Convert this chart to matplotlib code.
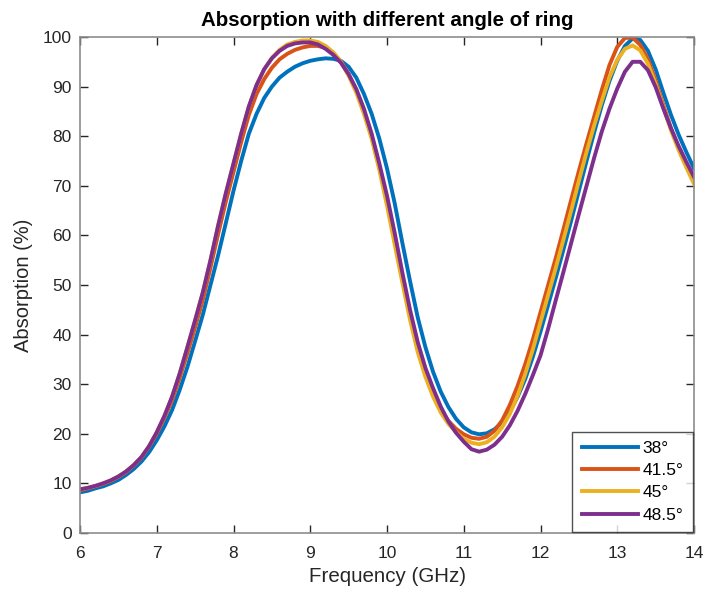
import matplotlib
matplotlib.use("Agg")
import matplotlib.pyplot as plt

plt.rcParams['font.family'] = ['Liberation Sans', 'DejaVu Sans']

freq = [6.0, 6.1, 6.2, 6.3, 6.4, 6.5, 6.6, 6.7, 6.8, 6.9,
        7.0, 7.1, 7.2, 7.3, 7.4, 7.5, 7.6, 7.7, 7.8, 7.9,
        8.0, 8.1, 8.2, 8.3, 8.4, 8.5, 8.6, 8.7, 8.8, 8.9,
        9.0, 9.1, 9.2, 9.3, 9.4, 9.5, 9.6, 9.7, 9.8, 9.9,
        10.0, 10.1, 10.2, 10.3, 10.4, 10.5, 10.6, 10.7, 10.8, 10.9,
        11.0, 11.1, 11.2, 11.3, 11.4, 11.5, 11.6, 11.7, 11.8, 11.9,
        12.0, 12.1, 12.2, 12.3, 12.4, 12.5, 12.6, 12.7, 12.8, 12.9,
        13.0, 13.1, 13.2, 13.3, 13.4, 13.5, 13.6, 13.7, 13.8, 13.9, 14.0]

abs_38 = [8.2, 8.5, 9.0, 9.4, 10.0, 10.7, 11.7, 12.9, 14.4, 16.3,
          18.7, 21.5, 24.8, 28.9, 33.5, 38.7, 44.0, 50.0, 56.0, 62.5,
          69.0, 75.0, 80.5, 84.5, 87.7, 90.0, 91.8, 93.0, 94.0, 94.7,
          95.2, 95.5, 95.7, 95.6, 95.2, 94.0, 91.8, 88.5, 84.5, 79.5,
          73.5, 66.5, 58.5, 50.8, 43.5, 37.5, 32.5, 28.5, 25.4, 23.0,
          21.3, 20.3, 19.9, 20.1, 20.9, 22.3, 24.5, 27.4, 31.0, 35.5,
          40.6, 46.0, 51.5, 57.2, 63.0, 69.0, 75.0, 80.8, 86.3, 91.2,
          95.2, 98.2, 99.7, 99.4, 97.2, 93.5, 88.8, 84.3, 80.3, 76.8, 73.5]

abs_415 = [8.6, 9.0, 9.4, 9.9, 10.5, 11.3, 12.3, 13.6, 15.2, 17.4,
           20.0, 23.2, 26.8, 31.3, 36.3, 41.5, 47.0, 53.5, 60.3, 66.8,
           72.8, 78.8, 84.3, 88.5, 91.5, 93.8, 95.5, 96.6, 97.4, 97.9,
           98.2, 98.2, 97.8, 96.8, 95.0, 92.5, 89.2, 85.0, 80.0, 73.8,
           66.8, 59.0, 51.2, 43.7, 37.0, 32.0, 28.0, 24.8, 22.6, 21.0,
           19.9, 19.2, 19.0, 19.4, 20.6, 22.7, 25.8, 29.6, 34.0, 39.0,
           44.5, 50.0, 55.5, 61.3, 67.2, 73.0, 78.6, 84.0, 89.4, 94.4,
           98.0, 99.8, 99.9, 98.4, 95.5, 91.2, 86.3, 81.6, 77.5, 74.0, 70.8]

abs_45 = [8.8, 9.1, 9.5, 10.0, 10.6, 11.4, 12.4, 13.7, 15.3, 17.5,
          20.3, 23.6, 27.5, 32.2, 37.5, 42.9, 48.5, 55.0, 62.0, 68.5,
          74.5, 80.5, 86.0, 90.3, 93.5, 95.8, 97.4, 98.5, 99.0, 99.3,
          99.3, 99.0, 98.2, 96.9, 95.0, 92.2, 88.8, 84.5, 79.5, 73.2,
          66.0, 58.2, 50.5, 43.0, 36.5, 31.5, 27.5, 24.3, 22.0, 20.3,
          19.0, 18.2, 17.9, 18.3, 19.4, 21.3, 24.0, 27.6, 32.0, 37.0,
          42.5, 48.0, 53.5, 59.2, 65.0, 71.0, 76.8, 82.2, 87.2, 91.9,
          95.4, 97.6, 98.3, 97.3, 94.6, 90.5, 85.8, 81.2, 77.2, 73.7, 70.4]

abs_485 = [8.8, 9.1, 9.5, 10.0, 10.6, 11.4, 12.4, 13.7, 15.3, 17.5,
           20.3, 23.6, 27.5, 32.2, 37.5, 42.9, 48.5, 55.0, 62.0, 68.5,
           74.5, 80.5, 86.0, 90.3, 93.5, 95.7, 97.2, 98.2, 98.7, 98.9,
           98.9, 98.5, 97.6, 96.4, 94.8, 92.5, 89.5, 85.5, 80.5, 74.5,
           68.0, 60.5, 52.5, 45.0, 38.5, 33.3, 29.2, 25.5, 22.5, 20.2,
           18.4, 16.9, 16.4, 16.8, 17.8, 19.4, 21.7, 24.6, 28.0, 31.8,
           35.8, 41.2, 47.0, 52.7, 58.5, 64.3, 70.0, 75.7, 81.0, 85.6,
           89.6, 93.0, 95.0, 95.0, 93.3, 89.9, 85.6, 81.6, 78.0, 74.8, 71.8]

labels = ['38°', '41.5°', '45°', '48.5°']
colors = ['#0072BD', '#D95319', '#EDB120', '#7E2F8E']
series = [abs_38, abs_415, abs_45, abs_485]

xticks = [6, 7, 8, 9, 10, 11, 12, 13, 14]
yticks = [0, 10, 20, 30, 40, 50, 60, 70, 80, 90, 100]

fig = plt.figure(figsize=(7.05, 5.94), dpi=100)
ax = fig.add_axes([80/705, 61/594, 614/705, 496/594])

for ys, c, lab in zip(series, colors, labels):
    ax.plot(freq, ys, color=c, lw=2.8, label=lab, solid_joinstyle='round')

ax.set_xlim(6, 14)
ax.set_ylim(0, 100)
ax.set_xticks(xticks)
ax.set_yticks(yticks)
ax.tick_params(direction='in', length=6, width=1, top=True, right=True,
               labelsize=12.5, colors='#262626')
ax.tick_params(axis='x', pad=9)
ax.tick_params(axis='y', pad=6)
for sp in ax.spines.values():
    sp.set_color('#8c8c8c')
    sp.set_linewidth(1.2)

ax.set_xlabel('Frequency (GHz)', fontsize=14.8, color='#262626', labelpad=5)
ax.set_ylabel('Absorption (%)', fontsize=14.5, color='#262626', labelpad=7)
ax.set_title('Absorption with different angle of ring', fontsize=14.8,
             fontweight='bold', color='black', pad=8)

leg = ax.legend(loc='lower right', fontsize=12.5, frameon=True, fancybox=False,
                edgecolor='#262626', handlelength=3.2, labelspacing=0.4,
                borderaxespad=0.05, handletextpad=0.3, borderpad=0.55)
leg.get_frame().set_linewidth(1.0)

fig.savefig('out.png', dpi=100)
